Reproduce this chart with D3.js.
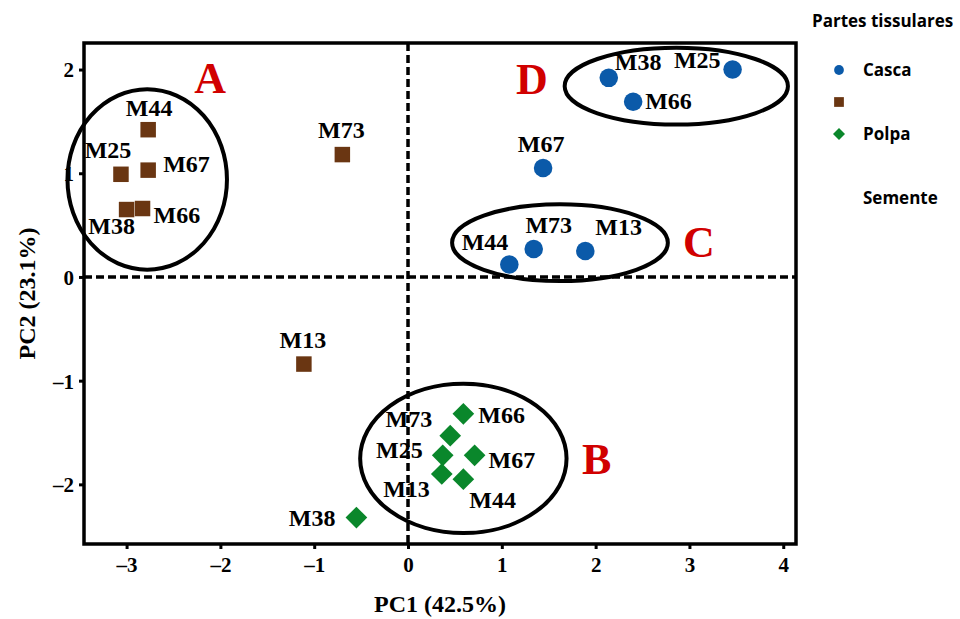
<!DOCTYPE html>
<html>
<head>
<meta charset="utf-8">
<script src="https://cdn.jsdelivr.net/npm/d3@7"></script>
<style>
  body { margin: 0; background: #fff; }
  text { font-family: "Liberation Serif", "Times New Roman", serif; font-weight: bold; }
  .legend text { font-family: "Open Sans", "Liberation Sans", sans-serif; }
</style>
</head>
<body>
<div id="chart"></div>
<script>
// sample codes (same order in every series)
var samples = ["M13", "M25", "M38", "M44", "M66", "M67", "M73"];

// PC scores
var cascaPC1   = [1.89, 3.46, 2.14, 1.08, 2.40, 1.44, 1.34];
var cascaPC2   = [0.25, 2.00, 1.92, 0.12, 1.69, 1.05, 0.27];
var sementePC1 = [-1.11, -3.06, -3.00, -2.77, -2.83, -2.77, -0.70];
var sementePC2 = [-0.84, 0.99, 0.65, 1.42, 0.66, 1.03, 1.18];
var polpaPC1   = [0.36, 0.37, -0.55, 0.59, 0.59, 0.71, 0.45];
var polpaPC2   = [-1.90, -1.72, -2.32, -1.95, -1.32, -1.72, -1.53];

var xTicks = [-3, -2, -1, 0, 1, 2, 3, 4];
var yTicks = [-2, -1, 0, 1, 2];

// cluster ellipses: name, centre and radii in PC units
var groupNames = ["A", "B", "C", "D"];
var groupCx = [-2.78, 0.59, 1.62, 2.86];
var groupCy = [0.94, -1.75, 0.33, 1.84];
var groupRx = [0.85, 1.10, 1.15, 1.19];
var groupRy = [0.87, 0.72, 0.37, 0.37];
// where the red letters sit
var letterX = [-2.11, 2.01, 3.10, 1.32];
var letterY = [1.77, -1.90, 0.19, 1.76];

var legendTitle = "Partes tissulares";
var legendLabels = ["Casca", "", "Polpa", "", "Semente"];

// -----------------------------------------------------------------------------

var svgWidth = 960;
var svgHeight = 619;
var plot = { left: 84, right: 796, top: 43, bottom: 544 };

var svg = d3.select("#chart").append("svg")
  .attr("width", svgWidth)
  .attr("height", svgHeight);

var xScale = d3.scaleLinear().domain([-3.454, 4.136]).range([plot.left, plot.right]);
var yScale = d3.scaleLinear().domain([-2.575, 2.256]).range([plot.bottom, plot.top]);

var colors = { casca: "#0b5aa9", semente: "#6a3612", polpa: "#0a872b" };

// axes
var fmt = d => (d < 0 ? "\u2013" : "") + Math.abs(d);

var xAxis = svg.append("g")
  .attr("transform", `translate(0, ${plot.bottom})`)
  .call(d3.axisBottom(xScale).tickValues(xTicks).tickSize(5).tickPadding(8).tickFormat(fmt));
var yAxis = svg.append("g")
  .attr("transform", `translate(${plot.left}, 0)`)
  .call(d3.axisLeft(yScale).tickValues(yTicks).tickSize(5).tickPadding(5).tickFormat(fmt));

[xAxis, yAxis].forEach(function(ax) {
  ax.select(".domain").remove();
  ax.selectAll("line").attr("stroke", "#000").attr("stroke-width", 3);
  ax.selectAll("text")
    .attr("fill", "#000")
    .style("font-family", "'Liberation Serif', serif")
    .style("font-weight", "bold")
    .style("font-size", "21px");
});
yAxis.selectAll("text").attr("dy", "0.35em");

// dashed zero lines
svg.append("line")
  .attr("x1", xScale(0)).attr("x2", xScale(0))
  .attr("y1", plot.top).attr("y2", plot.bottom)
  .attr("stroke", "#000").attr("stroke-width", 3.5)
  .attr("stroke-dasharray", "8,4");
svg.append("line")
  .attr("x1", plot.left).attr("x2", plot.right)
  .attr("y1", yScale(0)).attr("y2", yScale(0))
  .attr("stroke", "#000").attr("stroke-width", 3.5)
  .attr("stroke-dasharray", "8,4");

// frame
svg.append("rect")
  .attr("x", plot.left).attr("y", plot.top)
  .attr("width", plot.right - plot.left)
  .attr("height", plot.bottom - plot.top)
  .attr("fill", "none")
  .attr("stroke", "#000")
  .attr("stroke-width", 3.5);

// axis titles
svg.append("text")
  .attr("x", 440).attr("y", 612)
  .attr("text-anchor", "middle")
  .style("font-size", "24px")
  .text("PC1 (42.5%)");
svg.append("text")
  .attr("transform", `translate(35, ${(plot.top + plot.bottom) / 2}) rotate(-90)`)
  .attr("text-anchor", "middle")
  .style("font-size", "24px")
  .text("PC2 (23.1%)");

// cluster ellipses
svg.selectAll("ellipse.group")
  .data(groupNames)
  .enter()
  .append("ellipse")
  .attr("class", "group")
  .attr("cx", (d, i) => xScale(groupCx[i]))
  .attr("cy", (d, i) => yScale(groupCy[i]))
  .attr("rx", (d, i) => xScale(groupRx[i]) - xScale(0))
  .attr("ry", (d, i) => yScale(0) - yScale(groupRy[i]))
  .attr("fill", "none")
  .attr("stroke", "#000")
  .attr("stroke-width", 4);

svg.selectAll("text.letter")
  .data(groupNames)
  .enter()
  .append("text")
  .attr("class", "letter")
  .attr("x", (d, i) => xScale(letterX[i]))
  .attr("y", (d, i) => yScale(letterY[i]))
  .attr("text-anchor", "middle")
  .attr("fill", "#d10000")
  .style("font-size", "44px")
  .text(d => d);

// build point rows
function rows(pc1, pc2, part) {
  return samples.map((s, i) => ({ id: s, part: part, x: pc1[i], y: pc2[i] }));
}
var points = rows(cascaPC1, cascaPC2, "casca")
  .concat(rows(sementePC1, sementePC2, "semente"))
  .concat(rows(polpaPC1, polpaPC2, "polpa"));

// label placement (pixel offsets from each point, anchor)
var labelPos = {
  "casca-M13": [10, -16, "start"],  "casca-M25": [-12, -2, "end"],
  "casca-M38": [6, -8, "start"],    "casca-M44": [-1, -15, "end"],
  "casca-M66": [12, 7, "start"],    "casca-M67": [-2, -16, "middle"],
  "casca-M73": [15, -16, "middle"],
  "semente-M13": [-1, -16, "middle"], "semente-M25": [-13, -16, "middle"],
  "semente-M38": [-15, 24, "middle"], "semente-M44": [1, -14, "middle"],
  "semente-M66": [11, 14, "start"],   "semente-M67": [15, 2, "start"],
  "semente-M73": [-1, -17, "middle"],
  "polpa-M13": [-12, 23, "end"],  "polpa-M25": [-20, 3, "end"],
  "polpa-M38": [-21, 8, "end"],   "polpa-M44": [6, 29, "start"],
  "polpa-M66": [15, 9, "start"],  "polpa-M67": [14, 13, "start"],
  "polpa-M73": [-18, -9, "end"]
};

svg.selectAll("text.ptlabel")
  .data(points)
  .enter()
  .append("text")
  .attr("class", "ptlabel")
  .attr("x", d => xScale(d.x) + labelPos[d.part + "-" + d.id][0])
  .attr("y", d => yScale(d.y) + labelPos[d.part + "-" + d.id][1])
  .attr("text-anchor", d => labelPos[d.part + "-" + d.id][2])
  .attr("fill", "#000")
  .style("font-size", "24px")
  .text(d => d.id);

// markers (diamond = square turned 45 degrees)
var shapes = { casca: d3.symbolCircle, semente: d3.symbolSquare, polpa: d3.symbolSquare };
var sizes = { casca: 270, semente: 240, polpa: 235 };

svg.selectAll("path.pt")
  .data(points)
  .enter()
  .append("path")
  .attr("class", "pt")
  .attr("transform", d => `translate(${xScale(d.x)}, ${yScale(d.y)})` + (d.part === "polpa" ? " rotate(45)" : ""))
  .attr("d", d => d3.symbol().type(shapes[d.part]).size(sizes[d.part])())
  .attr("fill", d => colors[d.part]);

// legend (as printed: brown square has no label, "Semente" stands alone)
var legend = svg.append("g").attr("class", "legend");
legend.append("text")
  .attr("x", 812).attr("y", 27)
  .style("font-size", "17px")
  .text(legendTitle);

var legendShapes = [d3.symbolCircle, d3.symbolSquare, d3.symbolSquare, null, null];
var legendColors = [colors.casca, colors.semente, colors.polpa, null, null];
var legendSizes = [75, 95, 72, 0, 0];

var items = legend.selectAll("g.item")
  .data(legendLabels)
  .enter()
  .append("g")
  .attr("class", "item")
  .attr("transform", (d, i) => `translate(839, ${70 + i * 32})`);

items.filter((d, i) => legendShapes[i])
  .append("path")
  .attr("d", (d, i) => d3.symbol().type(legendShapes[i]).size(legendSizes[i])())
  .attr("transform", (d, i) => i === 2 ? "rotate(45)" : null)
  .attr("fill", (d, i) => legendColors[i]);

items.append("text")
  .attr("x", 24)
  .attr("y", 6)
  .style("font-size", "17px")
  .text(d => d);
</script>
</body>
</html>
